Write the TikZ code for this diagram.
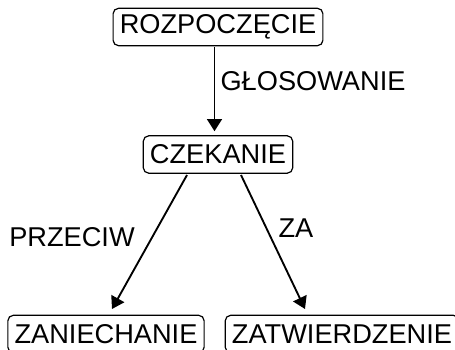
\documentclass[tikz,border=0pt]{standalone}
\usepackage{fontspec}
\setmainfont{Liberation Sans}
\usetikzlibrary{arrows.meta,calc}
\begin{document}
\begin{tikzpicture}[x=0.75pt,y=-0.75pt,
  state/.style={draw,rounded corners=4pt,line width=0.9pt,inner xsep=5pt,inner ysep=0pt,minimum height=28pt,font=\fontsize{20.4}{24}\selectfont},
  lbl/.style={inner sep=0pt,font=\fontsize{20.4}{24}\selectfont},
  conn/.style={line width=1.4pt,-{Triangle[length=9pt,width=11pt]}}]
\useasboundingbox (0,0) rectangle (455,350);
\node[state] (r) at (218,27) {ROZPOCZĘCIE};
\node[state] (c) at (218,154.5) {CZEKANIE};
\node[state] (z) at (106,334) {ZANIECHANIE};
\node[state] (t) at (342,334) {ZATWIERDZENIE};
\coordinate (cl) at (187,175);
\coordinate (cr) at (241,175);
\coordinate (zt) at (112,309);
\coordinate (tt) at (305,309);
\draw[conn] ($(r.south)+(-3.5,1)$) -- ($(c.north)+(-3.5,-4)$);
\draw[conn] (cl) -- (zt);
\draw[conn] (cr) -- (tt);
\node[lbl] (g) at (313,81) {GŁOSOWANIE};
\node[lbl] (p) at (72,237) {PRZECIW};
\node[lbl] (a) at (296,228) {ZA};
\end{tikzpicture}
\end{document}
